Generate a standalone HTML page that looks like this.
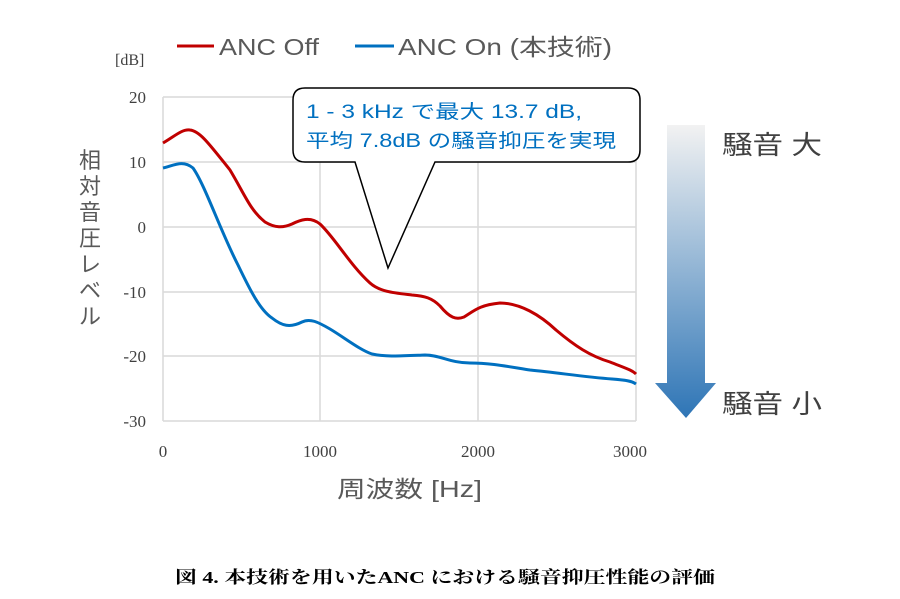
<!DOCTYPE html>
<html><head><meta charset="utf-8"><style>
body{margin:0;background:#fff;}
svg{display:block}
</style></head><body>
<svg width="900" height="599" viewBox="0 0 900 599" xmlns="http://www.w3.org/2000/svg">
<defs><linearGradient id="g" x1="0" y1="0" x2="0" y2="1">
<stop offset="0" stop-color="#f2f2f2"/><stop offset="1" stop-color="#2e75b6"/></linearGradient></defs>
<g stroke="#d9d9d9" stroke-width="1.5" fill="none">
<line x1="163" y1="97" x2="636" y2="97"/><line x1="163" y1="162" x2="636" y2="162"/>
<line x1="163" y1="227" x2="636" y2="227"/><line x1="163" y1="292" x2="636" y2="292"/>
<line x1="163" y1="356" x2="636" y2="356"/><line x1="163" y1="421" x2="636" y2="421"/>
<line x1="163" y1="97" x2="163" y2="421"/><line x1="320" y1="97" x2="320" y2="421"/>
<line x1="478" y1="97" x2="478" y2="421"/><line x1="636" y1="97" x2="636" y2="421"/>
</g>
<g font-family="Liberation Serif, serif" font-size="17" fill="#404040" text-anchor="end">
<text x="146" y="103">20</text><text x="146" y="168">10</text><text x="146" y="233">0</text>
<text x="146" y="298">-10</text><text x="146" y="362">-20</text><text x="146" y="427">-30</text>
</g>
<g font-family="Liberation Serif, serif" font-size="17" fill="#404040" text-anchor="middle">
<text x="163" y="457">0</text><text x="320" y="457">1000</text><text x="478" y="457">2000</text><text x="630" y="457">3000</text>
</g>
<text x="115" y="65" font-family="Liberation Serif, serif" font-size="16" fill="#404040">[dB]</text>
<path d="M163,143 C175,136 182,129 190,130 C200,131 210,145 230,170 C245,195 250,210 265,222 C275,228 283,228 292,224 C300,220 310,216 320,224 C335,238 350,265 370,283 C380,292 395,293 412,295 C425,296 432,298 440,306 C450,318 456,320 464,317 C475,310 480,305 500,303 C520,303 540,315 556,330 C575,346 590,356 610,362 C625,368 632,370 636,374" fill="none" stroke="#c00000" stroke-width="3"/>
<path d="M163,168 C175,165 183,160 193,168 C205,185 220,230 238,265 C250,290 260,310 272,318 C282,326 290,328 302,322 C310,318 318,322 330,329 C345,338 360,350 372,354 C385,357 400,356 425,355 C440,355 450,363 470,363 C490,363 505,366 530,370 C560,373 585,377 612,379 C625,380 632,381 636,384" fill="none" stroke="#0070c0" stroke-width="3"/>
<g font-family="Liberation Sans, Noto Sans CJK JP, sans-serif" font-size="23" fill="#595959">
<line x1="177" y1="46" x2="214" y2="46" stroke="#c00000" stroke-width="3"/>
<text x="219" y="55" textLength="100" lengthAdjust="spacingAndGlyphs">ANC Off</text>
<line x1="355" y1="46" x2="394" y2="46" stroke="#0070c0" stroke-width="3"/>
<text x="398" y="55" textLength="214" lengthAdjust="spacingAndGlyphs">ANC On (本技術)</text>
<text x="337" y="497" textLength="145" lengthAdjust="spacingAndGlyphs">周波数 [Hz]</text>
</g>
<g font-family="Liberation Sans, Noto Sans CJK JP, sans-serif" font-size="22" fill="#595959" text-anchor="middle">
<text x="90" y="168">相</text><text x="90" y="194">対</text><text x="90" y="220">音</text><text x="90" y="246">圧</text>
<text x="90" y="272">レ</text><text x="90" y="298">ベ</text><text x="90" y="324">ル</text>
</g>
<path d="M305,88 H628 Q640,88 640,100 V150 Q640,162 628,162 H435 L388,268 L355,162 H305 Q293,162 293,150 V100 Q293,88 305,88 Z" fill="#fff" stroke="#000" stroke-width="1.5"/>
<g font-family="Liberation Sans, Noto Sans CJK JP, sans-serif" font-size="19" fill="#0070c0">
<text x="306" y="118" textLength="276" lengthAdjust="spacingAndGlyphs">1 - 3 kHz で最大 13.7 dB,</text>
<text x="306" y="147" textLength="310" lengthAdjust="spacingAndGlyphs">平均 7.8dB の騒音抑圧を実現</text>
</g>
<path d="M667,125 H705 V383 H716 L686,418 L655,383 H667 Z" fill="url(#g)"/>
<g font-family="Liberation Sans, Noto Sans CJK JP, sans-serif" font-size="26" fill="#404040">
<text x="722" y="154" textLength="100" lengthAdjust="spacingAndGlyphs">騒音 大</text><text x="722" y="413" textLength="100" lengthAdjust="spacingAndGlyphs">騒音 小</text>
</g>
<text x="175" y="583" textLength="540" lengthAdjust="spacingAndGlyphs" font-family="Liberation Serif, Noto Serif CJK SC, serif" font-size="17" font-weight="bold" fill="#000">図 4. 本技術を用いたANC における騒音抑圧性能の評価</text>
</svg>
</body></html>
